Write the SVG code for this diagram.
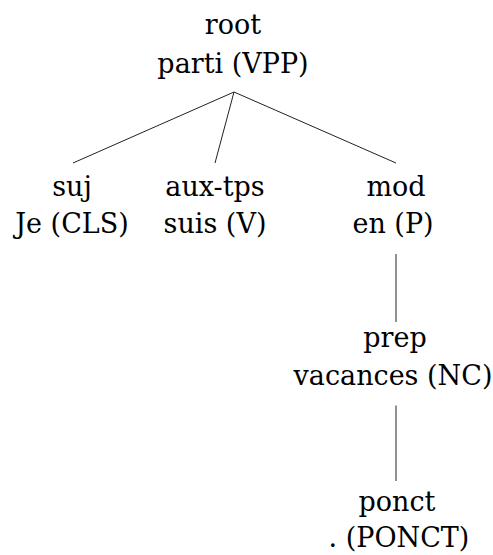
<svg xmlns="http://www.w3.org/2000/svg" width="493" height="555" viewBox="0 0 493 555">
  <style>
    text { font-family: "DejaVu Serif", "Liberation Serif", serif; font-size: 27px; fill: #000; text-anchor: middle; }
    .edge { stroke: #222; stroke-width: 1; fill: none; }
  </style>
  <rect width="493" height="555" fill="#fff"/>

  <!-- connectors between nodes -->
  <g id="edges">
    <line class="edge" x1="234" y1="92" x2="73" y2="163"/>
    <line class="edge" x1="234" y1="92" x2="215" y2="163"/>
    <line class="edge" x1="234" y1="92" x2="396" y2="163"/>
    <line class="edge" x1="396" y1="254" x2="396" y2="322"/>
    <line class="edge" x1="396" y1="405.5" x2="396" y2="481"/>
  </g>

  <g id="node-root">
    <text x="233" y="34">root</text>
    <text x="233" y="72.5">parti (VPP)</text>
  </g>
  <g id="node-suj">
    <text x="72" y="196">suj</text>
    <text x="72" y="233">Je (CLS)</text>
  </g>
  <g id="node-aux">
    <text x="215" y="196">aux-tps</text>
    <text x="215" y="233">suis (V)</text>
  </g>
  <g id="node-mod">
    <text x="396" y="196">mod</text>
    <text x="393" y="233">en (P)</text>
  </g>
  <g id="node-prep">
    <text x="395" y="347">prep</text>
    <text x="393" y="385">vacances (NC)</text>
  </g>
  <g id="node-ponct">
    <text x="397" y="511">ponct</text>
    <text x="399" y="547">. (PONCT)</text>
  </g>
</svg>
